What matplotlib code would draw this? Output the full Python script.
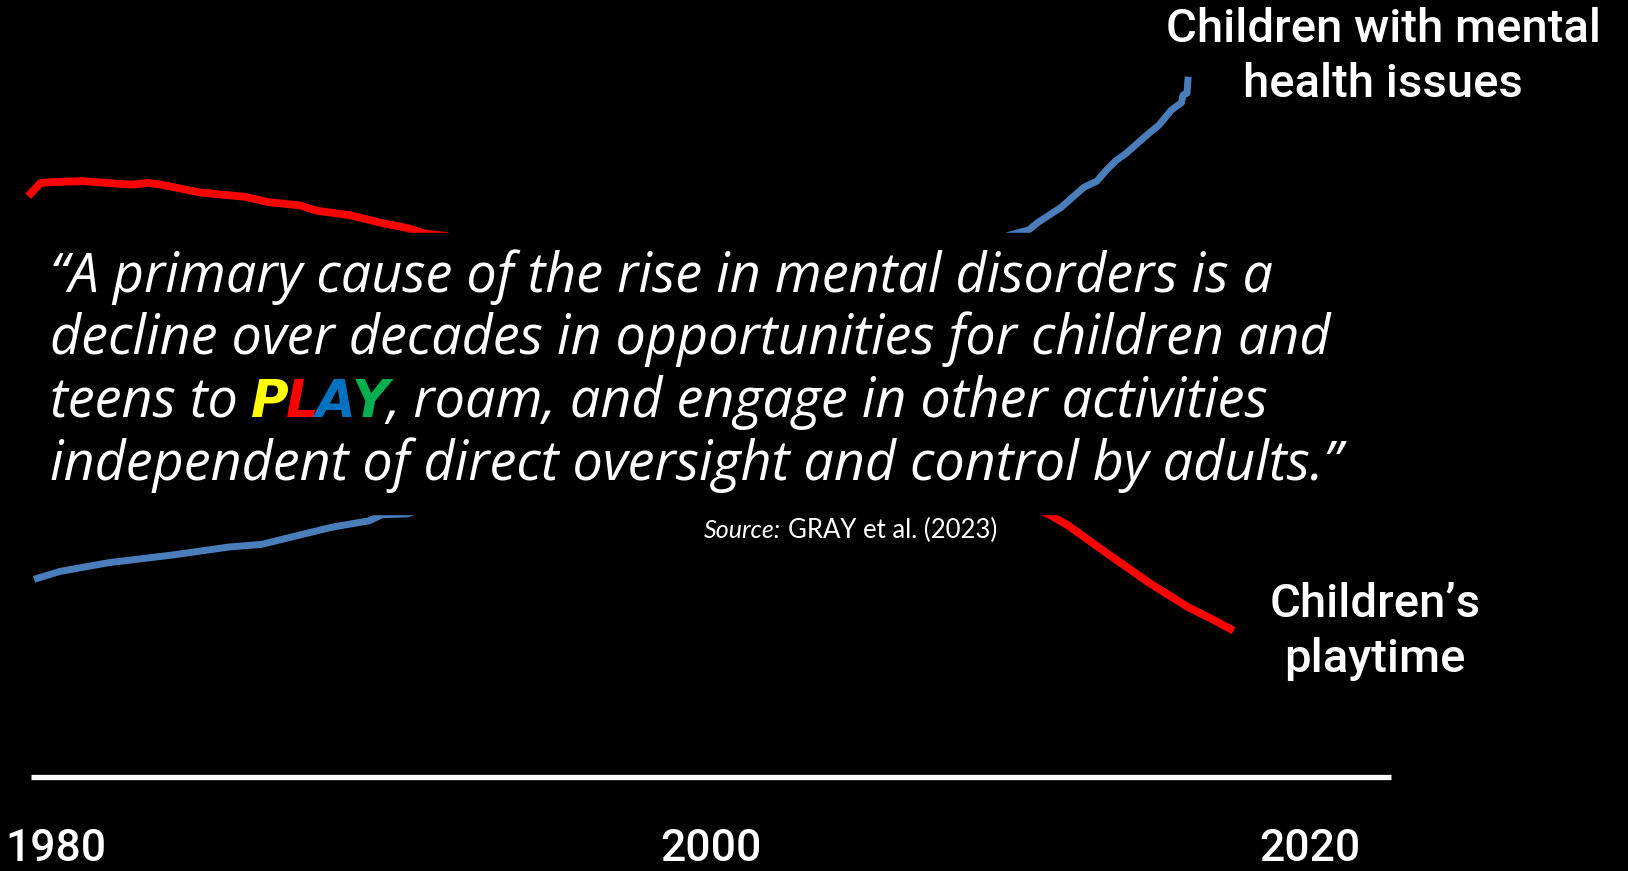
import matplotlib.pyplot as plt

# children's playtime (red), visible parts of the curve
years_play = [1980.0, 1980.3, 1980.7, 1981.6, 1983.1, 1983.6, 1984.0, 1985.2, 1986.6,
              1987.3, 1988.3, 1988.8, 1989.8, 1990.8, 1991.6, 1992.1, 1992.8,
              2011.3, 2011.9, 2013.1, 2014.4, 2015.6, 2016.3, 2016.9]
playtime = [77.8, 79.0, 79.1, 79.2, 78.8, 79.0, 78.8, 77.9, 77.4,
            76.8, 76.4, 75.8, 75.3, 74.4, 73.8, 73.2, 72.9,
            41.0, 39.7, 36.5, 33.1, 30.3, 29.0, 27.8]

# children with mental health issues (blue)
years_mental = [1980.2, 1980.9, 1982.4, 1984.4, 1986.1, 1987.1, 1988.3, 1989.3, 1990.4,
                1990.8, 1991.6,
                2010.1, 2010.7, 2011.0, 2011.7, 2012.4, 2012.8, 2013.1, 2013.4, 2013.7,
                2014.4, 2014.7, 2015.1, 2015.4, 2015.45, 2015.57, 2015.6]
mental = [33.6, 34.4, 35.4, 36.3, 37.2, 37.5, 38.6, 39.5, 40.2,
          40.9, 41.0,
          73.0, 73.6, 74.5, 76.2, 78.5, 79.2, 80.5, 81.6, 82.4,
          84.7, 85.6, 87.4, 88.2, 89.1, 89.3, 90.8]

axis_span = [1980.0, 2021.85]
year_labels = ['1980', '2000', '2020']

quote_lines = [
    "\u201cA primary cause of the rise in mental disorders is a",
    "decline over decades in opportunities for children and",
    None,
    "independent of direct oversight and control by adults.\u201d",
]
play_letters = ['P', 'L', 'A', 'Y']
play_colors = ['#FFFF00', '#FF0000', '#0070C0', '#00B050']

W, H = 1628, 871
fig = plt.figure(figsize=(W / 100, H / 100), dpi=100)
fig.patch.set_facecolor('black')
ax = fig.add_axes([0, 0, 1, 1])
ax.set_facecolor('black')
ax.set_xlim(1979.05, 2029.14)
ax.set_ylim(0, 100)
ax.axis('off')

ax.plot(years_play, playtime, color='#FF0000', lw=5.6, zorder=2)
ax.plot(years_mental, mental, color='#4A7EBB', lw=5.0, zorder=2)
ax.plot(axis_span, [10.8, 10.8], color='white', lw=3.8, solid_capstyle='butt')
# black band behind the quote hides the middle of both curves
ax.axhspan(41.0, 73.2, color='black', zorder=3)


def fx(px):
    return px / W


def fy(py):
    return (H - py) / H


label_font = dict(family='Roboto', weight='medium', color='white', size=34)
fig.text(fx(1383), fy(42), 'Children with mental', ha='center', va='baseline', **label_font)
fig.text(fx(1383), fy(97), 'health issues', ha='center', va='baseline', **label_font)
fig.text(fx(1375), fy(617), 'Children\u2019s', ha='center', va='baseline', **label_font)
fig.text(fx(1375), fy(672), 'playtime', ha='center', va='baseline', **label_font)

for lab, px in zip(year_labels, [56, 711, 1310]):
    fig.text(fx(px), fy(861), lab, ha='center', va='baseline', family='Roboto',
             weight='medium', color='white', size=32)

quote_font = dict(family='Open Sans', style='italic', weight='normal', color='white', size=38.8)
baselines = [292, 354, 417, 480]
qx = 50
renderer = fig.canvas.get_renderer()
for line, by in zip(quote_lines, baselines):
    if line is not None:
        fig.text(fx(qx), fy(by), line, ha='left', va='baseline', zorder=5, **quote_font)
        continue
    x = qx
    t = fig.text(fx(x), fy(by), 'teens to', ha='left', va='baseline', zorder=5, **quote_font)
    x += t.get_window_extent(renderer).width + 13
    for ch, c in zip(play_letters, play_colors):
        t = fig.text(fx(x), fy(by), ch, ha='left', va='baseline', zorder=5, family='DejaVu Sans',
                     style='oblique', weight='bold', color=c, size=37)
        x += t.get_window_extent(renderer).width - 3
    fig.text(fx(x), fy(by), ', roam, and engage in other activities', ha='left',
             va='baseline', zorder=5, **quote_font)

# source line
t = fig.text(fx(704), fy(538), 'Source:', ha='left', va='baseline', family='Lato',
             style='italic', color='white', size=18)
sx = 704 + t.get_window_extent(renderer).width + 7
fig.text(fx(sx), fy(538), 'GRAY et al. (2023)', ha='left', va='baseline', family='Lato',
         color='white', size=18.5)

fig.savefig('out.png', dpi=100, facecolor='black')
